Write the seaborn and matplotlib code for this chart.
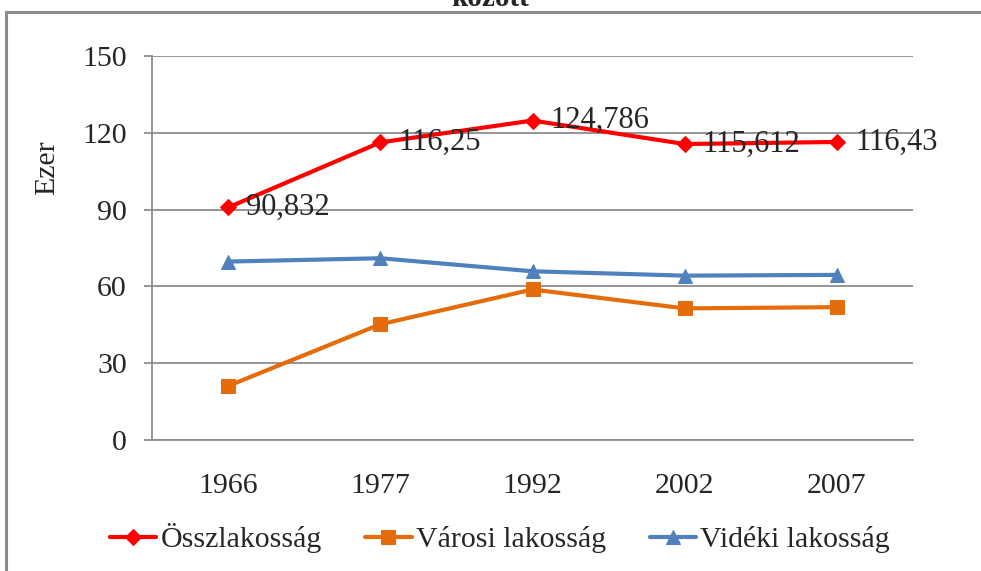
import pandas as pd
import matplotlib
matplotlib.use("Agg")
import matplotlib.pyplot as plt
import seaborn as sns
from matplotlib.patches import Rectangle

# Data
years = ["1966", "1977", "1992", "2002", "2007"]
total = [90.832, 116.25, 124.786, 115.612, 116.43]
urban = [21.1, 45.2, 58.8, 51.4, 51.9]
rural = [69.7, 71.0, 65.9, 64.2, 64.5]
total_labels = ["90,832", "116,25", "124,786", "115,612", "116,43"]

series_names = ["Összlakosság", "Városi lakosság", "Vidéki lakosság"]
colors = ["#FF0000", "#E46C0A", "#4F81BD"]
markers = ["D", "s", "^"]
marker_sizes = [8, 10, 10]

df = pd.DataFrame({
    "year": years * 3,
    "value": total + urban + rural,
    "series": [series_names[0]] * 5 + [series_names[1]] * 5 + [series_names[2]] * 5,
})

# Style
sns.set_style("white")
plt.rcParams["font.family"] = ["Liberation Serif", "DejaVu Serif"]

fig = plt.figure(figsize=(9.81, 5.71), dpi=100)
ax = fig.add_axes([152 / 981, 131 / 571, 761 / 981, 384 / 571])

# outer chart frame (right and bottom edges fall outside the picture)
fig.patches.append(Rectangle((6 / 981, -0.1), 1.1, 1 - 12 / 571 + 0.1,
                             transform=fig.transFigure, fill=False,
                             edgecolor="#8C8C8C", linewidth=2.2))

for name, c, m, ms in zip(series_names, colors, markers, marker_sizes):
    sub = df[df["series"] == name]
    sns.lineplot(data=sub, x="year", y="value", color=c, marker=m,
                 markersize=ms, markeredgecolor=c, linewidth=3,
                 sort=False, ax=ax, label=name)

# data labels for the total series
for i, (v, t) in enumerate(zip(total, total_labels)):
    ax.annotate(t, (i, v), xytext=(13, 0), textcoords="offset points",
                va="center", ha="left", fontsize=22)

ax.set_xlim(-0.5, 4.5)
ax.set_ylim(0, 150)
ax.set_yticks([0, 30, 60, 90, 120, 150])
ax.yaxis.grid(True, color="#8C8C8C", linewidth=1.3)
ax.xaxis.grid(False)

ax.set_xticks(range(5))
ax.set_xticklabels(years)
ax.set_xticks([i - 0.5 for i in range(6)], minor=True)
ax.tick_params(axis="x", which="major", length=0, pad=24, labelsize=21.5)
ax.tick_params(axis="x", which="minor", length=7, width=1.3, color="#8C8C8C")
ax.tick_params(axis="y", length=6, width=1.3, color="#8C8C8C", pad=12, labelsize=21.5,
               left=True)

for s in ["top", "right"]:
    ax.spines[s].set_visible(False)
for s in ["left", "bottom"]:
    ax.spines[s].set_color("#8C8C8C")
    ax.spines[s].set_linewidth(1.3)

ax.set_xlabel("")
ax.set_ylabel("Ezer", fontsize=21.5)
ax.yaxis.set_label_coords(-92 / 761, (440 - 168) / 384)

ax.get_legend().remove()
handles, labels = ax.get_legend_handles_labels()
fig.legend(handles, labels, loc="center", bbox_to_anchor=(500 / 981, 1 - 538 / 571),
           ncol=3, frameon=False, fontsize=21.5, handlelength=1.55,
           handletextpad=0.15, columnspacing=1.45)

# title, mostly cut off at the top
fig.text(490 / 981, 1 - 6 / 571, "között", ha="center", va="baseline",
         fontsize=21, fontweight="bold")

plt.savefig("out.png", dpi=100)
